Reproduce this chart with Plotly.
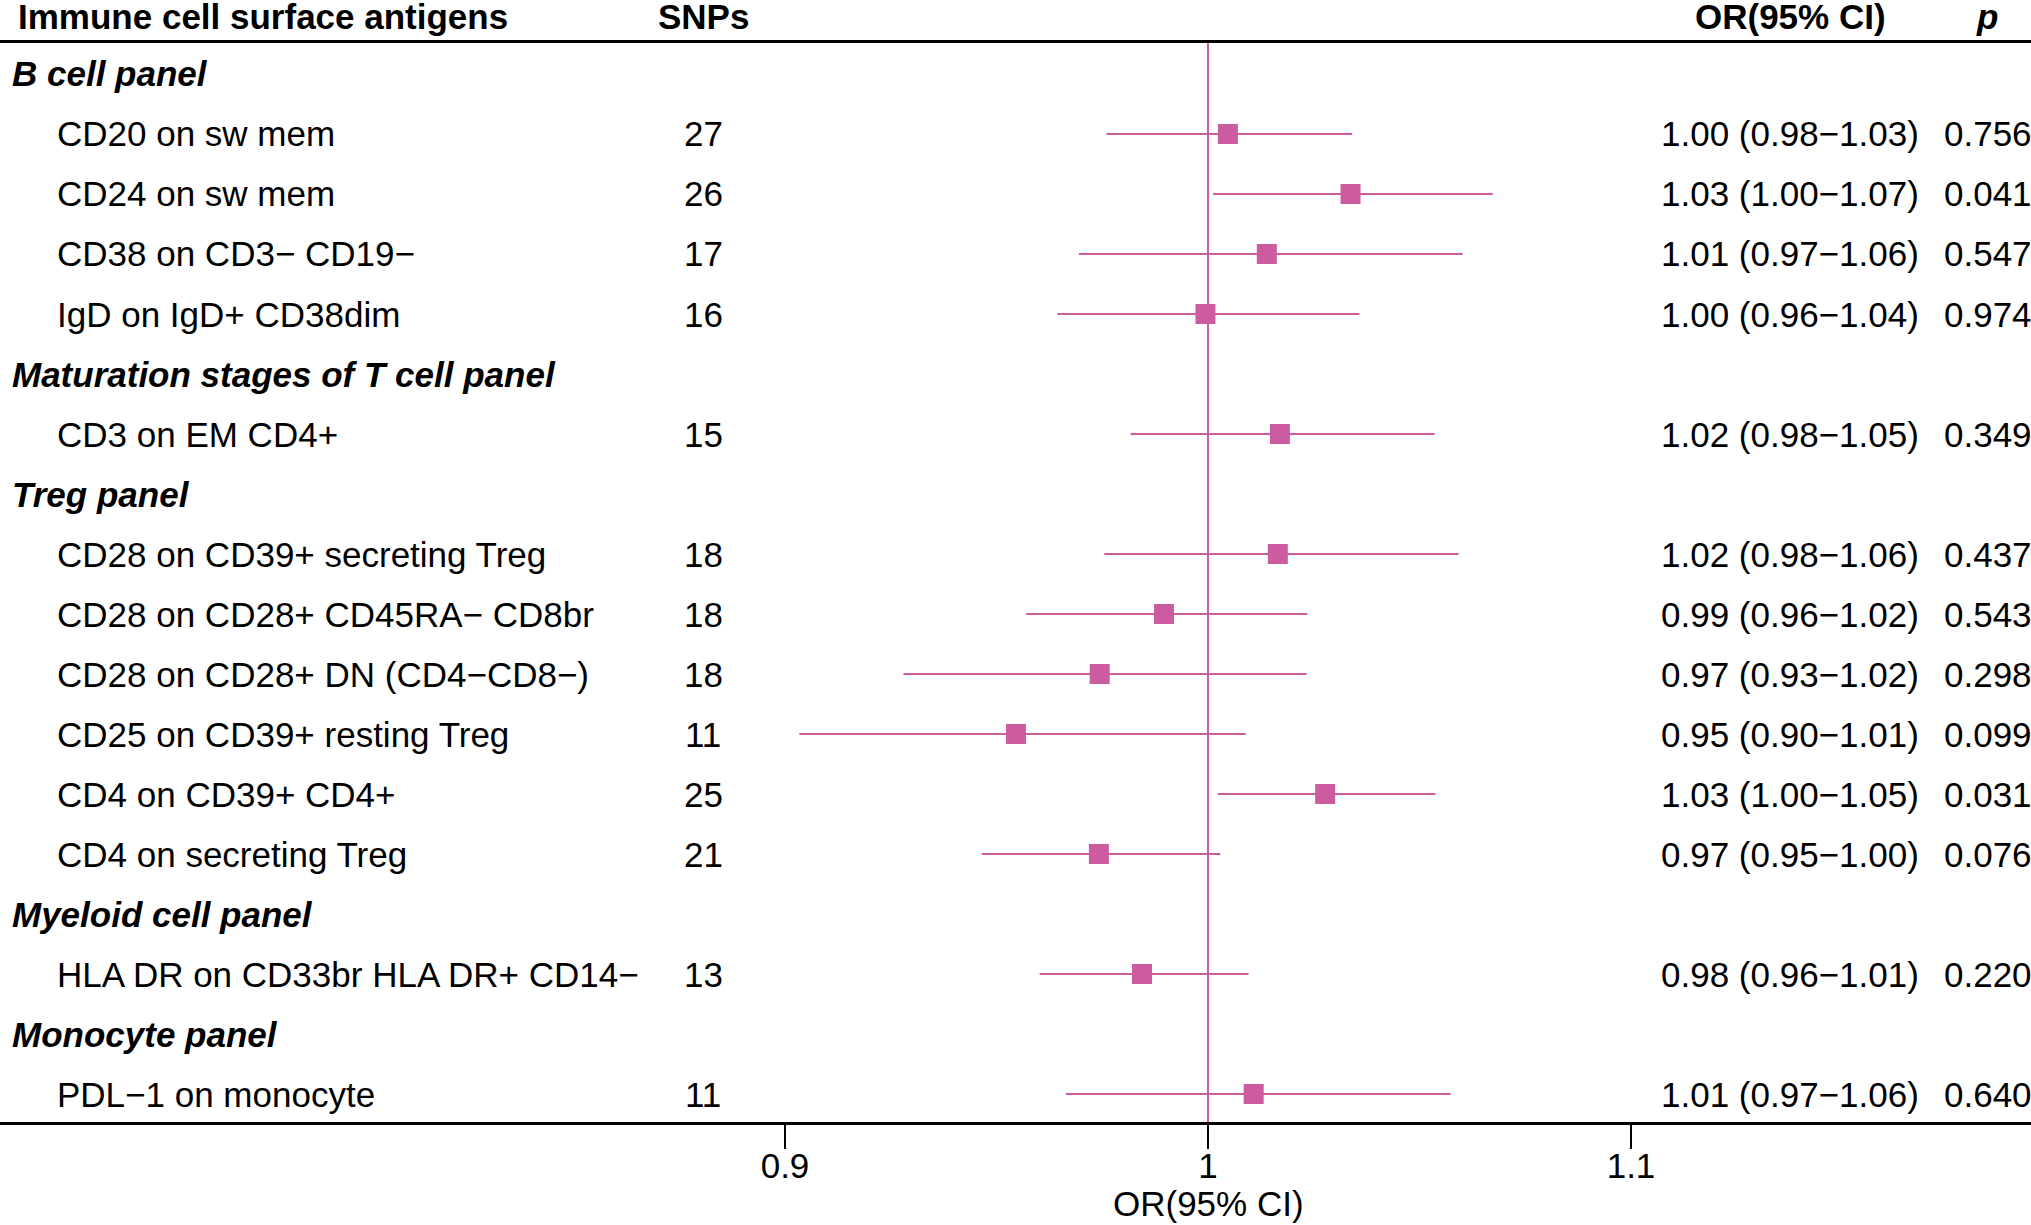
import plotly.graph_objects as go

# Data
groups = ["B cell panel", "Maturation stages of T cell panel", "Treg panel",
          "Myeloid cell panel", "Monocyte panel"]
group_sizes = [4, 1, 6, 1, 1]

antigens = [
    "CD20 on sw mem", "CD24 on sw mem", "CD38 on CD3− CD19−", "IgD on IgD+ CD38dim",
    "CD3 on EM CD4+",
    "CD28 on CD39+ secreting Treg", "CD28 on CD28+ CD45RA− CD8br",
    "CD28 on CD28+ DN (CD4−CD8−)", "CD25 on CD39+ resting Treg",
    "CD4 on CD39+ CD4+", "CD4 on secreting Treg",
    "HLA DR on CD33br HLA DR+ CD14−",
    "PDL−1 on monocyte",
]
snps = [27, 26, 17, 16, 15, 18, 18, 18, 11, 25, 21, 13, 11]
or_est = [1.0047, 1.0337, 1.0139, 0.9994, 1.0170, 1.0165, 0.9896, 0.9744,
          0.9546, 1.0277, 0.9742, 0.9844, 1.0108]
ci_low = [0.9760, 1.0012, 0.9695, 0.9644, 0.9817, 0.9755, 0.9570, 0.9280,
          0.9034, 1.0023, 0.9465, 0.9602, 0.9664]
ci_high = [1.0341, 1.0673, 1.0602, 1.0358, 1.0536, 1.0592, 1.0235, 1.0233,
           1.0089, 1.0538, 1.0029, 1.0096, 1.0574]
p_vals = [0.756, 0.041, 0.547, 0.974, 0.349, 0.437, 0.543, 0.298, 0.099,
          0.031, 0.076, 0.220, 0.640]

tick_vals = [0.9, 1.0, 1.1]
tick_text = ["0.9", "1", "1.1"]

# row layout: a heading row for each panel, then its antigens
group_rows, item_rows = [], []
r = 0
for size in group_sizes:
    group_rows.append(r)
    item_rows.extend(range(r + 1, r + 1 + size))
    r += size + 1

W, H = 2031, 1225
PINK = "#CC5C9F"
FONT = "Liberation Sans, Arial, sans-serif"
FS = 35


def px(x):
    return x / W


def py(y):
    return 1 - y / H


fig = go.Figure()

fig.add_trace(go.Scatter(
    x=or_est,
    y=item_rows,
    mode="markers",
    marker=dict(symbol="square", size=20, color=PINK, line=dict(width=0)),
    error_x=dict(
        type="data", symmetric=False,
        array=[h - o for h, o in zip(ci_high, or_est)],
        arrayminus=[o - l for o, l in zip(or_est, ci_low)],
        width=0, thickness=2, color=PINK,
    ),
    showlegend=False,
    hoverinfo="skip",
))

ann = []
# column headers
ann.append(dict(text="<b>Immune cell surface antigens</b>", x=px(16), xanchor="left"))
ann.append(dict(text="<b>SNPs</b>", x=px(703), xanchor="center"))
ann.append(dict(text="<b>OR(95% CI)</b>", x=px(1790), xanchor="center"))
ann.append(dict(text="<b><i>p</i></b>", x=px(1987), xanchor="center"))
for a in ann:
    a.update(xref="paper", yref="paper", y=1, yanchor="top", yshift=5)

for g, row in zip(groups, group_rows):
    ann.append(dict(text="<b><i>" + g + "</i></b>", x=px(10), y=row, xref="paper", yref="y",
                    xanchor="left", yanchor="middle"))

for i, row in enumerate(item_rows):
    ann.append(dict(text=antigens[i], x=px(55), y=row, xref="paper", yref="y",
                    xanchor="left", yanchor="middle"))
    ann.append(dict(text=str(snps[i]), x=px(703), y=row, xref="paper", yref="y",
                    xanchor="center", yanchor="middle"))
    ann.append(dict(text="%.2f (%.2f−%.2f)" % (or_est[i], ci_low[i], ci_high[i]),
                    x=px(1790), y=row, xref="paper", yref="y",
                    xanchor="center", yanchor="middle"))
    ann.append(dict(text="%.3f" % p_vals[i], x=px(1988), y=row, xref="paper", yref="y",
                    xanchor="center", yanchor="middle"))

# axis title
ann.append(dict(text="OR(95% CI)", x=1.0, y=0, xref="x", yref="paper",
                xanchor="center", yanchor="bottom"))

for a in ann:
    a.update(showarrow=False, font=dict(family=FONT, size=FS, color="black"))

# x scale: 1.0 sits at 1208 px, 0.1 OR spans 423 px
unit = 4230.0
x_lo = 1 - 1208 / unit
x_hi = 1 + (W - 1208) / unit

# y scale: row 0 at 74 px, 60 px per row, plot area 43..1122 px
top_px, bot_px = 43, 1122
y_top = (top_px - 74) / 60
y_bot = (bot_px - 74) / 60

fig.update_layout(
    width=W, height=H,
    autosize=False,
    margin=dict(l=0, r=0, t=0, b=0),
    paper_bgcolor="white",
    plot_bgcolor="white",
    font=dict(family=FONT, size=FS, color="black"),
    annotations=ann,
    shapes=[dict(type="line", xref="x", yref="y domain", x0=1, x1=1, y0=0, y1=1,
                 line=dict(color=PINK, width=2), layer="below")],
    xaxis=dict(
        domain=[0, 1], range=[x_lo, x_hi],
        showgrid=False, zeroline=False,
        showline=True, linecolor="black", linewidth=2.5, mirror=True,
        ticks="outside", ticklen=24, tickwidth=1.5, tickcolor="black",
        tickvals=tick_vals, ticktext=tick_text,
        tickfont=dict(family=FONT, size=FS, color="black"),
        ticklabelstandoff=-13,
    ),
    yaxis=dict(
        domain=[py(bot_px), py(top_px)], range=[y_bot, y_top],
        showgrid=False, zeroline=False, showline=False,
        showticklabels=False, ticks="",
    ),
)

fig.write_html("out.html", config={"displayModeBar": False},
               post_script="document.body.style.margin='0';")
